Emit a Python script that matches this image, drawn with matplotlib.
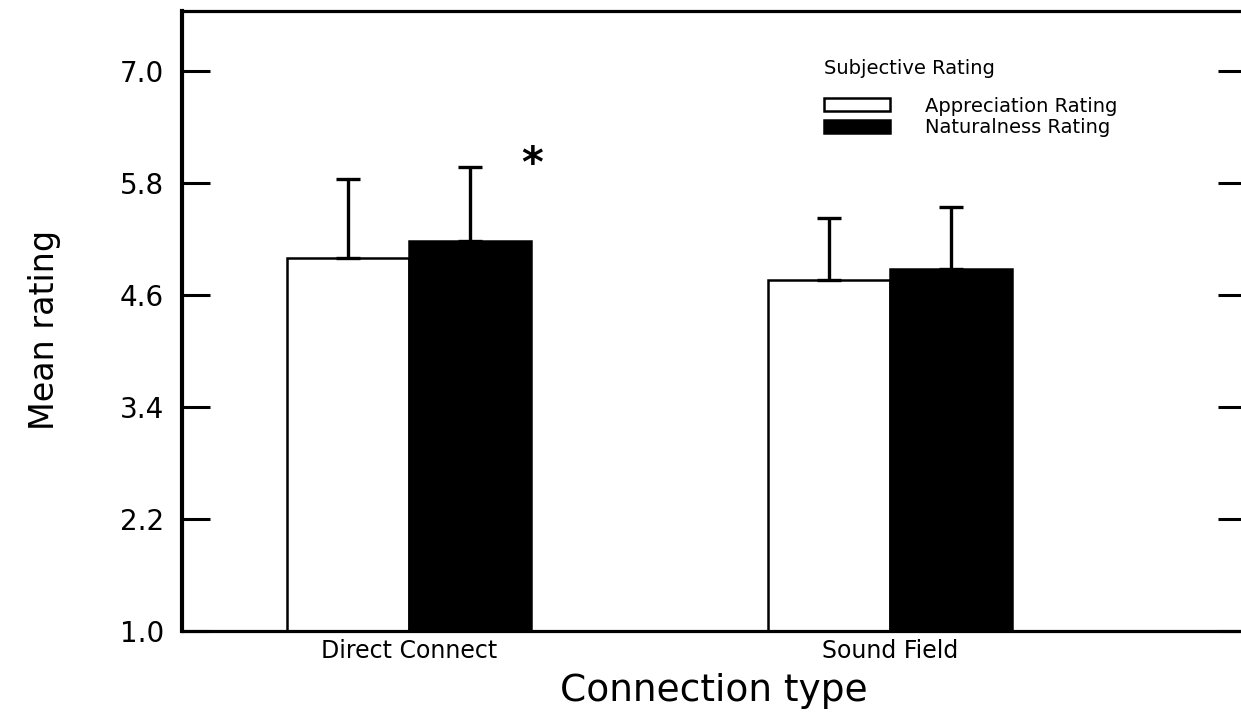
import matplotlib
matplotlib.use('Agg')
import matplotlib.pyplot as plt
import numpy as np

# Values
categories = ['Direct Connect', 'Sound Field']
appreciation = [5.00, 4.76]
appreciation_err = [0.84, 0.66]
naturalness = [5.18, 4.88]
naturalness_err = [0.79, 0.66]
yticks = [1.0, 2.2, 3.4, 4.6, 5.8, 7.0]

fig = plt.figure(figsize=(12.41, 7.15), dpi=100)
ax = fig.add_axes([182 / 1241, 84 / 715, 1064 / 1241, 620 / 715])

x = np.arange(len(categories))
w = 0.254

err_kw = dict(elinewidth=2.4, capthick=2.4, capsize=8.5, ecolor='black')
b1 = ax.bar(x - w / 2, appreciation, w, color='white', edgecolor='black',
            linewidth=1.8, yerr=[[0, 0], appreciation_err], error_kw=err_kw,
            label='Appreciation Rating')
b2 = ax.bar(x + w / 2, naturalness, w, color='black', edgecolor='black',
            linewidth=1.8, yerr=[[0, 0], naturalness_err], error_kw=err_kw,
            label='Naturalness Rating')

ax.set_ylim(1.0, 7.64)
ax.set_xlim(-0.472, 1.74)
ax.set_yticks(yticks)
ax.set_yticklabels([f'{v:.1f}' for v in yticks], fontsize=20)
ax.set_xticks(x)
ax.set_xticklabels(categories, fontsize=17)

ax.tick_params(axis='y', direction='in', length=20, width=2.2, pad=13,
               right=True, left=True)
ax.tick_params(axis='x', length=0, pad=6)

for side in ['left', 'bottom', 'top', 'right']:
    ax.spines[side].set_linewidth(2.3)
ax.spines['left'].set_linewidth(3.0)

ax.set_ylabel('Mean rating', fontsize=24)
ax.yaxis.set_label_coords(-0.114, 0.485)
ax.set_xlabel('Connection type', fontsize=27)
ax.xaxis.set_label_coords(0.5, -0.068)

# significance marker
ax.text(0.255, 5.99, '*', fontsize=30, fontweight='bold', ha='center', va='center')

leg = ax.legend(handles=[b1, b2], title='Subjective Rating', frameon=False,
                loc='upper left', bbox_to_anchor=(806 / 1241, 1 - 42 / 715),
                bbox_transform=fig.transFigure, fontsize=14, title_fontsize=14,
                handlelength=3.4, handleheight=0.65, handletextpad=1.8,
                labelspacing=0.12, alignment='left')
leg._legend_box.sep = 13
for h in leg.legend_handles:
    h.set_linewidth(1.8)

fig.savefig('out.png', dpi=100)
